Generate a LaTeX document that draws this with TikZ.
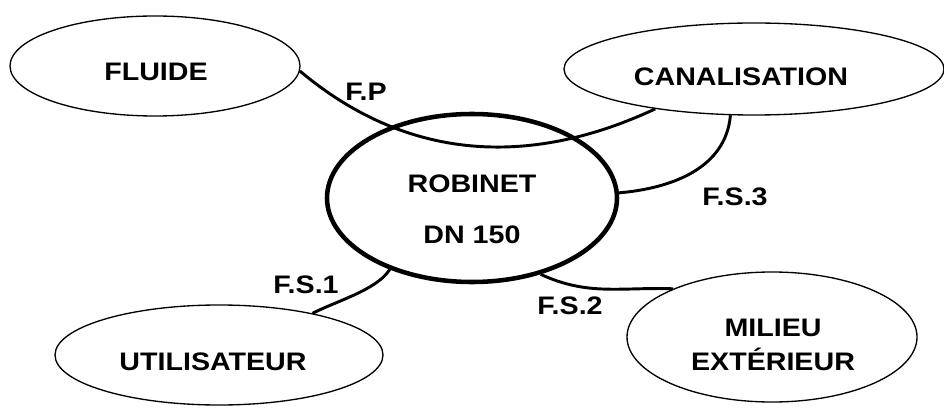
\documentclass[tikz,border=0pt]{standalone}
\usepackage{fontspec}
\setmainfont{Liberation Sans}[FakeStretch=1.13]
\usepackage{tikz}
\usetikzlibrary{shapes.geometric,positioning,calc}

\begin{document}
\begin{tikzpicture}[x=0.75pt,y=0.75pt,
    bulle/.style={draw, ellipse, line width=1pt, inner sep=0pt},
    lien/.style={line width=2.2pt},
    txt/.style={font=\fontsize{19}{23}\selectfont\bfseries, align=center}]
\useasboundingbox (0,0) rectangle (944,407);

% Draw the outer elements
\node[bulle, minimum width=217.5pt, minimum height=75pt] (fluide) at (155,341) {};
\node[bulle, minimum width=285pt, minimum height=69pt] (canal) at (754,338) {};
\node[bulle, line width=3.4pt, minimum width=217.5pt, minimum height=126pt] (robinet) at (472,209) {};
\node[bulle, minimum width=246pt, minimum height=75pt] (util) at (219,52) {};
\node[bulle, minimum width=217.5pt, minimum height=97.5pt] (milieu) at (772,70) {};

% Names
\node[txt] (tfluide) at (156,335) {FLUIDE};
\node[txt] (tcanal) at (741,330) {CANALISATION};
\node[txt] (trobinet) at (472,198) {ROBINET\\[15pt]DN 150};
\node[txt] (tutil) at (213,45) {UTILISATEUR};
\node[txt] (tmilieu) at (773,62) {MILIEU\\[3pt]EXT\'ERIEUR};

% Functions
\draw[lien] (fluide.-2) to[out=-40, in=-155] (canal.-158);
\draw[lien] (canal.-117) to[out=-95, in=5] (robinet.2);
\draw[lien] (robinet.-139) to[out=-122, in=28, looseness=0.7] (util.24);
\draw[lien] (robinet.-48) to[out=-25, in=178] (milieu.154);

% Function labels
\node[txt] (lfp) at (366,315) {F.P};
\node[txt] (lfs3) at (735,210) {F.S.3};
\node[txt] (lfs1) at (306,122) {F.S.1};
\node[txt] (lfs2) at (570,101) {F.S.2};

\end{tikzpicture}
\end{document}
